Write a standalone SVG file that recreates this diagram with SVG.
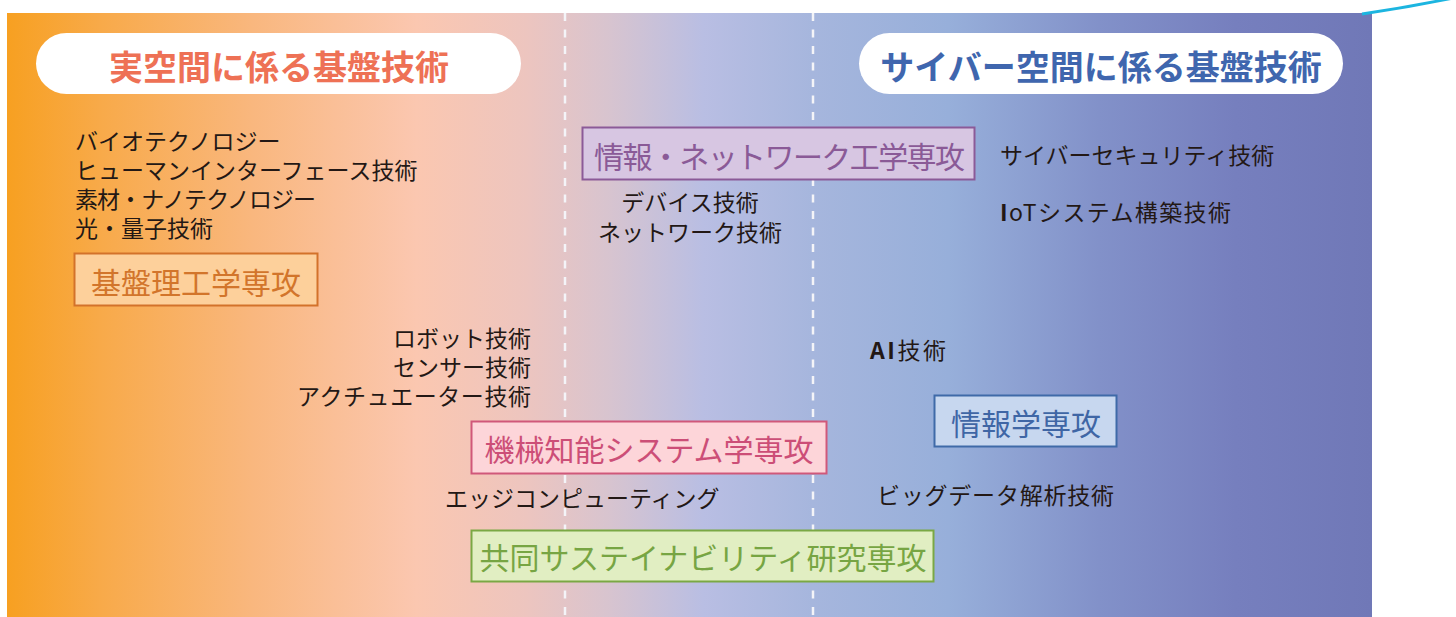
<svg xmlns="http://www.w3.org/2000/svg" width="1456" height="617" viewBox="0 0 1456 617">
<defs>
<linearGradient id="bg" x1="7" y1="0" x2="1372" y2="0" gradientUnits="userSpaceOnUse">
<stop offset="0" stop-color="#f7a021"/>
<stop offset="0.07" stop-color="#f8aa4a"/>
<stop offset="0.18" stop-color="#f9b77e"/>
<stop offset="0.30" stop-color="#fbc7b0"/>
<stop offset="0.38" stop-color="#edc5bf"/>
<stop offset="0.44" stop-color="#d8c4cf"/>
<stop offset="0.51" stop-color="#b9bee3"/>
<stop offset="0.59" stop-color="#a6b6dd"/>
<stop offset="0.69" stop-color="#97afda"/>
<stop offset="0.80" stop-color="#8291c9"/>
<stop offset="0.90" stop-color="#767fbe"/>
<stop offset="1" stop-color="#7078b7"/>
</linearGradient>
<style>
.t{font-family:"Noto Sans CJK JP","Noto Sans",sans-serif;font-size:23px;fill:#231815;dominant-baseline:central}
.pill{fill:#ffffff}
.pt{font-family:"Noto Sans CJK JP","Noto Sans",sans-serif;font-size:34px;font-weight:700;dominant-baseline:central;text-anchor:middle}
.bt{font-family:"Noto Sans CJK JP","Noto Sans",sans-serif;font-size:30px;dominant-baseline:central;text-anchor:middle}
.dash{stroke:#f4f4f8;stroke-width:2.5;stroke-dasharray:8 8.5;fill:none}
.b{font-weight:700}
</style>
</defs>
<rect x="7" y="13" width="1365" height="606" fill="url(#bg)"/>
<g id="connectors">
<line class="dash" x1="565" y1="13" x2="565" y2="617"/>
<line class="dash" x1="813" y1="13" x2="813" y2="617"/>
<path d="M1362,14 Q1410,7 1458,-3" stroke="#1cb5e0" stroke-width="3" fill="none"/>
</g>
<g id="real-space">
<rect class="pill" x="36" y="33" width="485" height="61" rx="30.5"/>
<text class="pt" x="279" y="65" fill="#ee7155">実空間に係る基盤技術</text>
</g>
<g id="cyber-space">
<rect class="pill" x="859" y="33" width="484" height="61" rx="30.5"/>
<text class="pt" x="1101" y="65" fill="#3f66ae">サイバー空間に係る基盤技術</text>
</g>
<g id="left-techs">
<text class="t" x="75" y="140">バイオテクノロジー</text>
<text class="t" x="75" y="169">ヒューマンインターフェース技術</text>
<text class="t" x="75" y="198" textLength="241" lengthAdjust="spacing">素材・ナノテクノロジー</text>
<text class="t" x="75" y="227">光・量子技術</text>
</g>
<g id="kiban">
<rect x="74.5" y="253.5" width="243" height="52" fill="#fdd09b" stroke="#d3722a" stroke-width="2"/>
<text class="bt" x="196" y="281" fill="#d2752b">基盤理工学専攻</text>
</g>
<g id="joho-network">
<rect x="582.5" y="127.5" width="392" height="52" fill="#d7c6e2" stroke="#8b5a98" stroke-width="2"/>
<text class="bt" x="594" y="155" fill="#8a5a97" style="text-anchor:start" textLength="371" lengthAdjust="spacing">情報・ネットワーク工学専攻</text>
</g>
<g id="center-techs">
<text class="t" x="690" y="201" text-anchor="middle">デバイス技術</text>
<text class="t" x="690" y="231" text-anchor="middle">ネットワーク技術</text>
</g>
<g id="right-techs">
<text class="t" x="1000" y="154">サイバーセキュリティ技術</text>
<text class="t" x="1000" y="211" textLength="231" lengthAdjust="spacing"><tspan class="b">I</tspan>oTシステム構築技術</text>
</g>
<g id="robot-techs">
<text class="t" x="531" y="337" text-anchor="end">ロボット技術</text>
<text class="t" x="531" y="366" text-anchor="end">センサー技術</text>
<text class="t" x="297" y="395" textLength="234" lengthAdjust="spacing">アクチュエーター技術</text>
</g>
<g id="kikai">
<rect x="471.5" y="421.5" width="355" height="52" fill="#fdd5d9" stroke="#d0587a" stroke-width="2"/>
<text class="bt" x="649" y="448" fill="#cc4e77">機械知能システム学専攻</text>
</g>
<g id="edge">
<text class="t" x="445" y="497">エッジコンピューティング</text>
</g>
<g id="kyodo">
<rect x="471.5" y="530.5" width="462" height="51" fill="#e1eec2" stroke="#7aa844" stroke-width="2"/>
<text class="bt" x="703" y="556" fill="#77a543">共同サステイナビリティ研究専攻</text>
</g>
<g id="ai">
<text class="t" x="870" y="349" textLength="76" lengthAdjust="spacing"><tspan class="b">AI</tspan>技術</text>
</g>
<g id="johogaku">
<rect x="934.5" y="395.5" width="182" height="51" fill="#c7d7ef" stroke="#3f6aa8" stroke-width="2"/>
<text class="bt" x="1026" y="422" fill="#3f66a5">情報学専攻</text>
</g>
<g id="bigdata">
<text class="t" x="877" y="494" textLength="237" lengthAdjust="spacing">ビッグデータ解析技術</text>
</g>
</svg>
